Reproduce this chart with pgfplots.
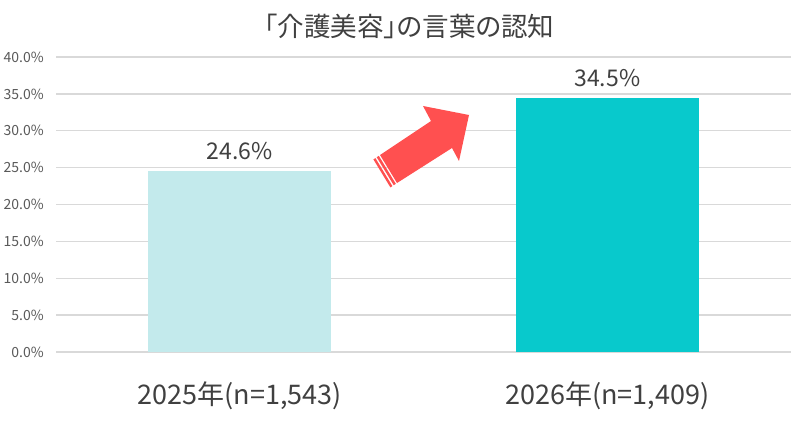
\documentclass[border=0pt]{standalone}
\usepackage{fontspec}
\setmainfont{Noto Sans CJK JP}
\usepackage{pgfplots}
\pgfplotsset{compat=1.18}

\definecolor{barlight}{RGB}{195,234,236}
\definecolor{barteal}{RGB}{8,201,204}
\definecolor{arrowred}{RGB}{255,80,80}
\definecolor{textgray}{RGB}{64,64,64}
\definecolor{tickgray}{RGB}{89,89,89}
\definecolor{gridgray}{RGB}{217,217,217}

\begin{document}
\begin{tikzpicture}
\useasboundingbox (0,0) rectangle (810pt,429pt);
\begin{axis}[
    at={(56pt,77pt)}, anchor=south west,
    scale only axis, width=735pt, height=295pt,
    xmin=-0.5, xmax=1.5, ymin=0, ymax=40,
    ybar, bar width=183pt, bar shift=0pt,
    axis line style={draw=none},
    tick style={draw=none},
    ymajorgrids, grid style={draw=gridgray, line width=1.3pt},
    ytick={0,5,...,40},
    yticklabel={\pgfmathprintnumber[fixed,fixed zerofill,precision=1]{\tick}\%},
    /pgf/number format/assume math mode=true,
    yticklabel style={font=\fontsize{14}{16}\selectfont, text=tickgray, inner sep=0pt, xshift=-12pt},
    xtick={0,1},
    xticklabels={2025年(n=1{,}543), 2026年(n=1{,}409)},
    xticklabel style={font=\fontsize{27}{32}\selectfont, text=textgray, anchor=base, inner sep=0pt, yshift=-48pt},
    title={「介護美容」の言葉の認知},
    title style={font=\fontsize{26.5}{31}\selectfont\addfontfeatures{RawFeature=+palt}, text=textgray, at={(0.5,1)}, anchor=center, yshift=25pt, xshift=-14pt},
    nodes near coords={\pgfmathprintnumber[fixed,fixed zerofill,precision=1]{\pgfplotspointmeta}\%},
    nodes near coords style={font=\fontsize{23}{27}\selectfont, text=textgray, anchor=south, inner sep=0pt, yshift=11pt},
]
\addplot[fill=barlight, draw=none] coordinates {(0,24.6)};
\addplot[fill=barteal, draw=none] coordinates {(1,34.5)};
\end{axis}
% decorative arrow, in image pixel coordinates
\begin{scope}[x=1pt, y=-1pt, shift={(0pt,429pt)}]
\fill[arrowred] (469,115) -- (423,106) -- (431,121) -- (380,155) -- (397,183) -- (452,148) -- (459,161) -- cycle;
\fill[arrowred] (378.8,155.8) -- (395.8,183.8) -- (393.7,185.2) -- (376.7,157.2) -- cycle;
\fill[arrowred] (375.4,158.1) -- (392.4,186.1) -- (390.4,187.4) -- (373.4,159.4) -- cycle;
\end{scope}
\end{tikzpicture}
\end{document}
